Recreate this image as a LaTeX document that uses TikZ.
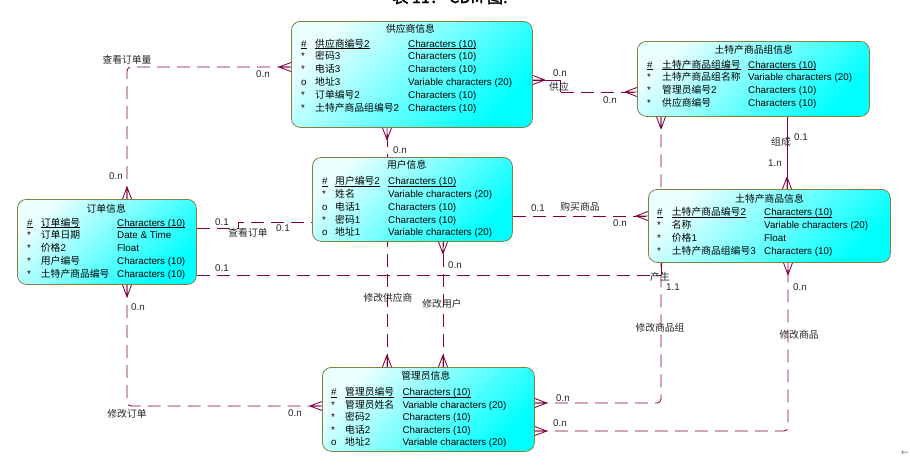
\documentclass[tikz,border=0pt]{standalone}
\usepackage{fontspec}
\setmainfont{Liberation Sans}
\newfontfamily\zhfont{Noto Sans CJK SC}
\newfontfamily\zhtitle[FakeBold=2]{Noto Sans CJK SC}
\newfontfamily\symfont{DejaVu Sans}
\usetikzlibrary{calc}
\pgfdeclarelayer{back}
\pgfdeclarelayer{bg}
\pgfsetlayers{back,bg,main}
\definecolor{relc}{RGB}{128,0,64}
\definecolor{boxedge}{RGB}{128,128,64}
\newcommand\zh[1]{{\zhfont #1}}
\newsavebox\pkbox
\newcommand\pku[1]{\sbox\pkbox{#1}\rlap{\rule[-1.8pt]{\wd\pkbox}{0.6pt}}\usebox\pkbox}
\newcommand\erow[5]{\makebox[#1][l]{#2}\makebox[#3][l]{#4}#5}
\newcommand\crowfoot[3]{%
  \draw[crowl] ($(#1)+({12*(#2)},{12*(#3)})$) -- ($(#1)+({4.5*(#3)},{4.5*(#2)})$)
    ($(#1)+({12*(#2)},{12*(#3)})$) -- (#1)
    ($(#1)+({12*(#2)},{12*(#3)})$) -- ($(#1)+({-4.5*(#3)},{-4.5*(#2)})$);}
\tikzset{
  entity/.style={draw=boxedge, line width=0.8pt, rounded corners=9pt,
    top color=cyan!8!white, bottom color=cyan, shading angle=45,
    anchor=north west, inner sep=0pt},
  etitle/.style={anchor=base, inner sep=0pt, font=\fontsize{9.8}{12}\selectfont\zhfont},
  erowt/.style={anchor=base west, inner sep=0pt},
  lbl/.style={anchor=base, inner sep=0pt, text=black!85},
  rel/.style={draw=relc, line width=0.85pt, dash pattern=on 13pt off 7pt, rounded corners=4pt},
  relsolid/.style={draw=relc, line width=0.85pt},
  crowl/.style={draw=relc, line width=0.85pt},
}
\begin{document}
\begin{tikzpicture}[x=1pt,y=-1pt,font=\fontsize{9.8}{12}\selectfont]
\begin{pgfonlayer}{back}
\fill[white] (0,0) rectangle (910,466);
\end{pgfonlayer}
\useasboundingbox (0,0) rectangle (910,466);

% caption (cut off at the top, as in the reference)
\node[anchor=base, inner sep=0pt, font=\fontsize{16}{16}\selectfont\zhtitle] (title) at (450,3) {表 11： CDM 图.};

% entities
\node[entity, minimum width=241pt, minimum height=106pt] (sup) at (291,21) {};
\node[entity, minimum width=232pt, minimum height=75pt] (grp) at (637,41) {};
\node[entity, minimum width=200pt, minimum height=84pt] (usr) at (312,157) {};
\node[entity, minimum width=179pt, minimum height=85pt] (ord) at (17,199) {};
\node[entity, minimum width=242pt, minimum height=73pt] (prd) at (648,189) {};
\node[entity, minimum width=212pt, minimum height=84pt] (adm) at (322,367) {};

% 供应商信息
\node[etitle] (supT) at (410.5,32) {供应商信息};
\node[erowt] (s1) at (301,47) {\erow{14pt}{\pku{\#}}{93pt}{\pku{\zh{供应商编号}2}}{\pku{Characters (10)}}};
\node[erowt] (s2) at (301,59.8) {\erow{14pt}{*}{93pt}{\zh{密码}3}{Characters (10)}};
\node[erowt] (s3) at (301,72.6) {\erow{14pt}{*}{93pt}{\zh{电话}3}{Characters (10)}};
\node[erowt] (s4) at (301,85.4) {\erow{14pt}{o}{93pt}{\zh{地址}3}{Variable characters (20)}};
\node[erowt] (s5) at (301,98.2) {\erow{14pt}{*}{93pt}{\zh{订单编号}2}{Characters (10)}};
\node[erowt] (s6) at (301,111) {\erow{14pt}{*}{93pt}{\zh{土特产商品组编号}2}{Characters (10)}};

% 土特产商品组信息
\node[etitle] (grpT) at (753.8,53) {土特产商品组信息};
\node[erowt] (g1) at (647,68) {\erow{15pt}{\pku{\#}}{86pt}{\pku{\zh{土特产商品组编号}}}{\pku{Characters (10)}}};
\node[erowt] (g2) at (647,80.8) {\erow{15pt}{*}{86pt}{\zh{土特产商品组名称}}{Variable characters (20)}};
\node[erowt] (g3) at (647,93.6) {\erow{15pt}{*}{86pt}{\zh{管理员编号}2}{Characters (10)}};
\node[erowt] (g4) at (647,106.4) {\erow{15pt}{*}{86pt}{\zh{供应商编号}}{Characters (10)}};

% 用户信息
\node[etitle] (usrT) at (406.7,168.8) {用户信息};
\node[erowt] (u1) at (322,184.6) {\erow{13pt}{\pku{\#}}{53pt}{\pku{\zh{用户编号}2}}{\pku{Characters (10)}}};
\node[erowt] (u2) at (322,197.4) {\erow{13pt}{*}{53pt}{\zh{姓名}}{Variable characters (20)}};
\node[erowt] (u3) at (322,210.2) {\erow{13pt}{o}{53pt}{\zh{电话}1}{Characters (10)}};
\node[erowt] (u4) at (322,223) {\erow{13pt}{*}{53pt}{\zh{密码}1}{Characters (10)}};
\node[erowt] (u5) at (322,235.8) {\erow{13pt}{o}{53pt}{\zh{地址}1}{Variable characters (20)}};

% 订单信息
\node[etitle] (ordT) at (106.2,212) {订单信息};
\node[erowt] (o1) at (27,226) {\erow{13.7pt}{\pku{\#}}{76.3pt}{\pku{\zh{订单编号}}}{\pku{Characters (10)}}};
\node[erowt] (o2) at (27,238.9) {\erow{13.7pt}{*}{76.3pt}{\zh{订单日期}}{Date \& Time}};
\node[erowt] (o3) at (27,251.8) {\erow{13.7pt}{*}{76.3pt}{\zh{价格}2}{Float}};
\node[erowt] (o4) at (27,264.7) {\erow{13.7pt}{*}{76.3pt}{\zh{用户编号}}{Characters (10)}};
\node[erowt] (o5) at (27,277.6) {\erow{13.7pt}{*}{76.3pt}{\zh{土特产商品编号}}{Characters (10)}};

% 土特产商品信息
\node[etitle] (prdT) at (769.5,202) {土特产商品信息};
\node[erowt] (p1) at (657,215.3) {\erow{14.7pt}{\pku{\#}}{92.3pt}{\pku{\zh{土特产商品编号}2}}{\pku{Characters (10)}}};
\node[erowt] (p2) at (657,228.2) {\erow{14.7pt}{*}{92.3pt}{\zh{名称}}{Variable characters (20)}};
\node[erowt] (p3) at (657,241.1) {\erow{14.7pt}{*}{92.3pt}{\zh{价格}1}{Float}};
\node[erowt] (p4) at (657,254) {\erow{14.7pt}{*}{92.3pt}{\zh{土特产商品组编号}3}{Characters (10)}};

% 管理员信息
\node[etitle] (admT) at (425.8,379.5) {管理员信息};
\node[erowt] (a1) at (331,395.6) {\erow{14pt}{\pku{\#}}{57.3pt}{\pku{\zh{管理员编号}}}{\pku{Characters (10)}}};
\node[erowt] (a2) at (331,408.1) {\erow{14pt}{*}{57.3pt}{\zh{管理员姓名}}{Variable characters (20)}};
\node[erowt] (a3) at (331,420.6) {\erow{14pt}{*}{57.3pt}{\zh{密码}2}{Characters (10)}};
\node[erowt] (a4) at (331,433.1) {\erow{14pt}{*}{57.3pt}{\zh{电话}2}{Characters (10)}};
\node[erowt] (a5) at (331,445.6) {\erow{14pt}{o}{57.3pt}{\zh{地址}2}{Variable characters (20)}};

% connector end points
\coordinate (A1) at ([xshift=110pt]ord.north west);
\coordinate (A2) at ([yshift=-46pt]sup.north west);
\coordinate (B1) at ([yshift=-59pt]sup.north east);
\coordinate (B2) at ([yshift=-51pt]grp.north west);
\coordinate (Bk) at ($(B1)+(28,12)$);
\coordinate (C1) at ([xshift=150pt]grp.south west);
\coordinate (C2) at ([xshift=139pt]prd.north west);
\coordinate (D1) at ([xshift=96pt]sup.south west);
\coordinate (D2) at ([xshift=65pt]adm.north west);
\coordinate (E1) at ([xshift=131pt]usr.south west);
\coordinate (E2) at ([xshift=121pt]adm.north west);
\coordinate (F1) at ([yshift=-29pt]ord.north east);
\coordinate (F2) at ([yshift=-65pt]usr.north west);
\coordinate (G1) at ([yshift=-59pt]usr.north east);
\coordinate (G2) at ([yshift=-27pt]prd.north west);
\coordinate (H1) at ([yshift=-76pt]ord.north east);
\coordinate (H2) at ([xshift=13pt]prd.south west);
\coordinate (I1) at ([yshift=-36pt]adm.north east);
\coordinate (I2) at ([xshift=24pt]grp.south west);
\coordinate (J1) at ([yshift=-64pt]adm.north east);
\coordinate (J2) at ([xshift=140pt]prd.south west);
\coordinate (K1) at ([xshift=110pt]ord.south west);
\coordinate (K2) at ([yshift=-39pt]adm.north west);

\begin{pgfonlayer}{bg}
% 查看订单量
\draw[rel] (A1) |- (A2);
\crowfoot{A1}{0}{-1}
\crowfoot{A2}{-1}{0}
% 供应
\draw[relsolid] (B1) -- ++(28,0) -- (Bk);
\draw[rel] (Bk) -- (B2);
\crowfoot{B1}{1}{0}
\crowfoot{B2}{-1}{0}
% 组成
\draw[relsolid] (C1) -- (C2);
\crowfoot{C2}{0}{-1}
% 修改供应商
\draw[rel] (D2) -- (D1);
\crowfoot{D1}{0}{1}
\crowfoot{D2}{0}{-1}
% 修改用户
\draw[rel] (E2) -- (E1);
\crowfoot{E1}{0}{1}
\crowfoot{E2}{0}{-1}
% 查看订单
\draw[rel, rounded corners=0pt] (F1) -- ++(42,0) |- (F2);
% 购买商品
\draw[rel] (G1) -- (G2);
\crowfoot{G2}{-1}{0}
% 产生
\draw[rel] (H1) -- (H1 -| H2);
\draw[relsolid] (H1 -| H2) -- (H2);
% 修改商品组
\draw[rel] (I1) -| (I2);
\crowfoot{I1}{1}{0}
\crowfoot{I2}{0}{1}
% 修改商品
\draw[rel] (J1) -| (J2);
\crowfoot{J1}{1}{0}
\crowfoot{J2}{0}{1}
% 修改订单
\draw[rel] (K1) |- (K2);
\crowfoot{K1}{0}{1}
\crowfoot{K2}{-1}{0}
\end{pgfonlayer}

% relationship labels
\node[lbl] (lA0) at (127,63.5) {\zh{查看订单量}};
\node[lbl] (lA1) at (263,77.5) {0.n};
\node[lbl] (lA2) at (116,179.5) {0.n};
\node[lbl] (lB1) at (560,76.5) {0.n};
\node[lbl] (lB0) at (559,90.5) {\zh{供应}};
\node[lbl] (lB2) at (610,103.5) {0.n};
\node[lbl] (lC0) at (781,145.5) {\zh{组成}};
\node[lbl] (lC1) at (801,140) {0.1};
\node[lbl] (lC2) at (775,166.5) {1.n};
\node[lbl] (lD1) at (400,153.5) {0.n};
\node[lbl] (lD0) at (388,301.5) {\zh{修改供应商}};
\node[lbl] (lE1) at (455,268.5) {0.n};
\node[lbl] (lE0) at (442,307.5) {\zh{修改用户}};
\node[lbl] (lF1) at (222,225.5) {0.1};
\node[lbl] (lF0) at (248,236.5) {\zh{查看订单}};
\node[lbl] (lF2) at (283,231.5) {0.1};
\node[lbl] (lG1) at (538,211.5) {0.1};
\node[lbl] (lG0) at (580,210.5) {\zh{购买商品}};
\node[lbl] (lG2) at (620,226.5) {0.n};
\node[lbl] (lH1) at (222,271.5) {0.1};
\node[lbl] (lH0) at (660,280) {\zh{产生}};
\node[lbl] (lH2) at (673,290) {1.1};
\node[lbl] (lI1) at (563,401.5) {0.n};
\node[lbl] (lI0) at (660,331.5) {\zh{修改商品组}};
\node[lbl] (lJ1) at (560,426.5) {0.n};
\node[lbl] (lJ0) at (799,338.5) {\zh{修改商品}};
\node[lbl] (lJ2) at (800,290.5) {0.n};
\node[lbl] (lK1) at (138,310.5) {0.n};
\node[lbl] (lK0) at (127,417.5) {\zh{修改订单}};
\node[lbl] (lK2) at (295,416.5) {0.n};
\node[lbl, font=\fontsize{9}{9}\selectfont\symfont, text=gray] (arr) at (905,455) {←};
\end{tikzpicture}
\end{document}
